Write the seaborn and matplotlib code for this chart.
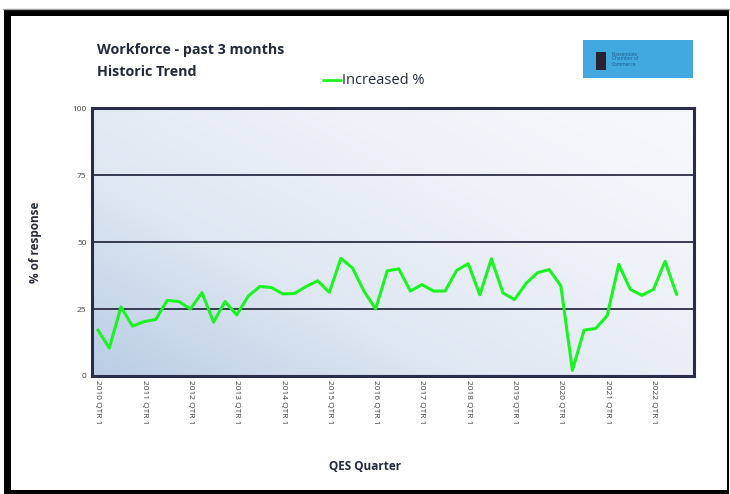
import numpy as np
import pandas as pd
import matplotlib
matplotlib.use("Agg")
import matplotlib.pyplot as plt
import seaborn as sns
from matplotlib.patches import Rectangle
from matplotlib.colors import LinearSegmentedColormap

sns.set_style("white")
plt.rcParams['font.family'] = ['Open Sans', 'DejaVu Sans']

# quarters 2010 Q1 .. 2022 Q3
years = list(range(2010, 2023))
quarters = [f"{y} QTR {q}" for y in years for q in range(1, 5)][:51]

increased = [17.2, 10.4, 25.8, 18.6,
             20.3, 21.1, 28.2, 27.8,
             25.0, 31.1, 20.1, 27.8,
             22.8, 29.8, 33.4, 33.0,
             30.6, 30.8, 33.4, 35.5,
             31.2, 43.9, 40.3, 31.6,
             25.0, 39.2, 40.0, 31.7,
             34.1, 31.7, 31.7, 39.4,
             41.9, 30.3, 43.7, 31.0,
             28.5, 34.6, 38.6, 39.7,
             33.6, 2.1, 17.1, 17.7,
             22.5, 41.6, 32.3, 30.1,
             32.3, 42.8, 30.4]

y_ticks = [0, 25, 50, 75, 100]

df = pd.DataFrame({"quarter": quarters, "pos": range(len(quarters)), "Increased %": increased})

fig = plt.figure(figsize=(7.3, 4.94), dpi=100)

# outer black frame like the slide border
fig.patches.append(Rectangle((4 / 730, 0), 725 / 730, 1 - 10 / 494, transform=fig.transFigure,
                             facecolor="black", edgecolor="none", zorder=-2))
fig.patches.append(Rectangle((11 / 730, 4 / 494), 716 / 730, 1 - 20 / 494, transform=fig.transFigure,
                             facecolor="white", edgecolor="none", zorder=-1))
fig.lines.append(plt.Line2D([3 / 730, 729 / 730], [1 - 9 / 494, 1 - 9 / 494], transform=fig.transFigure,
                            color="#9a9a9a", lw=1))

ax = fig.add_axes([92 / 730, 1 - 376 / 494, 602 / 730, 268 / 494])

# gradient background: blue bottom-left to near white top-right
gx, gy = np.meshgrid(np.linspace(0, 1, 200), np.linspace(0, 1, 200))
grad = (gx * 0.55 + gy * 0.45)
cmap = LinearSegmentedColormap.from_list("bg", ["#b9cde5", "#dfe7f2", "#eef2f9", "#f7f9fc"])
ax.imshow(grad, cmap=cmap, origin="lower", extent=[0, 1, 0, 1], transform=ax.transAxes,
          aspect="auto", zorder=0)

for v in [25, 50, 75]:
    ax.axhline(v, color="#2b2e44", lw=1.3, zorder=1)

sns.lineplot(data=df, x="pos", y="Increased %", ax=ax, color="#19f51f", lw=2.2,
             zorder=3, legend=False)

ax.set_xlim(-0.5, 51.5)
ax.set_ylim(0, 100)
ax.set_yticks(y_ticks)
ax.set_yticklabels([str(t) for t in y_ticks], fontsize=6, color="#404040")
ax.set_xticks(df["pos"][::4])
ax.set_xticklabels(df["quarter"][::4], rotation=270, fontsize=6, color="#404040")
ax.tick_params(axis="both", length=0, pad=4)
ax.tick_params(axis="x", pad=3)
for s in ax.spines.values():
    s.set_color("#2a2d48")
    s.set_linewidth(2.2)
    s.set_visible(True)
ax.set_xlabel("")
ax.set_ylabel("")

fig.text(35 / 730, 1 - 242 / 494, "% of response", rotation=90, ha="center", va="center",
         fontsize=8.5, fontweight="bold", color="#222a3c")
fig.text(365 / 730, 1 - 466 / 494, "QES Quarter", ha="center", va="center",
         fontsize=8.5, fontweight="bold", color="#222a3c")

fig.text(97 / 730, 1 - 50 / 494, "Workforce - past 3 months", ha="left", va="center",
         fontsize=10.3, fontweight="bold", color="#222a3c")
fig.text(97 / 730, 1 - 72 / 494, "Historic Trend", ha="left", va="center",
         fontsize=10.3, fontweight="bold", color="#222a3c")

# legend entry
fig.lines.append(plt.Line2D([323 / 730, 341 / 730], [1 - 80 / 494, 1 - 80 / 494], transform=fig.transFigure,
                            color="#19f51f", lw=2))
fig.text(342 / 730, 1 - 80 / 494, "Increased %", ha="left", va="center", fontsize=10.5, color="#222a3c")

# logo placeholder box
fig.patches.append(Rectangle((583 / 730, 1 - 78 / 494), 110 / 730, 38 / 494, transform=fig.transFigure,
                             facecolor="#41a8e0", edgecolor="none"))
fig.patches.append(Rectangle((596 / 730, 1 - 70 / 494), 10 / 730, 18 / 494, transform=fig.transFigure,
                             facecolor="#2a2230", edgecolor="none"))
fig.text(612 / 730, 1 - 59 / 494, "Rossendale\nChamber of\nCommerce", ha="left", va="center",
         fontsize=3.5, color="#1f5d8a", linespacing=1.0)

fig.savefig("out.png", dpi=100)
